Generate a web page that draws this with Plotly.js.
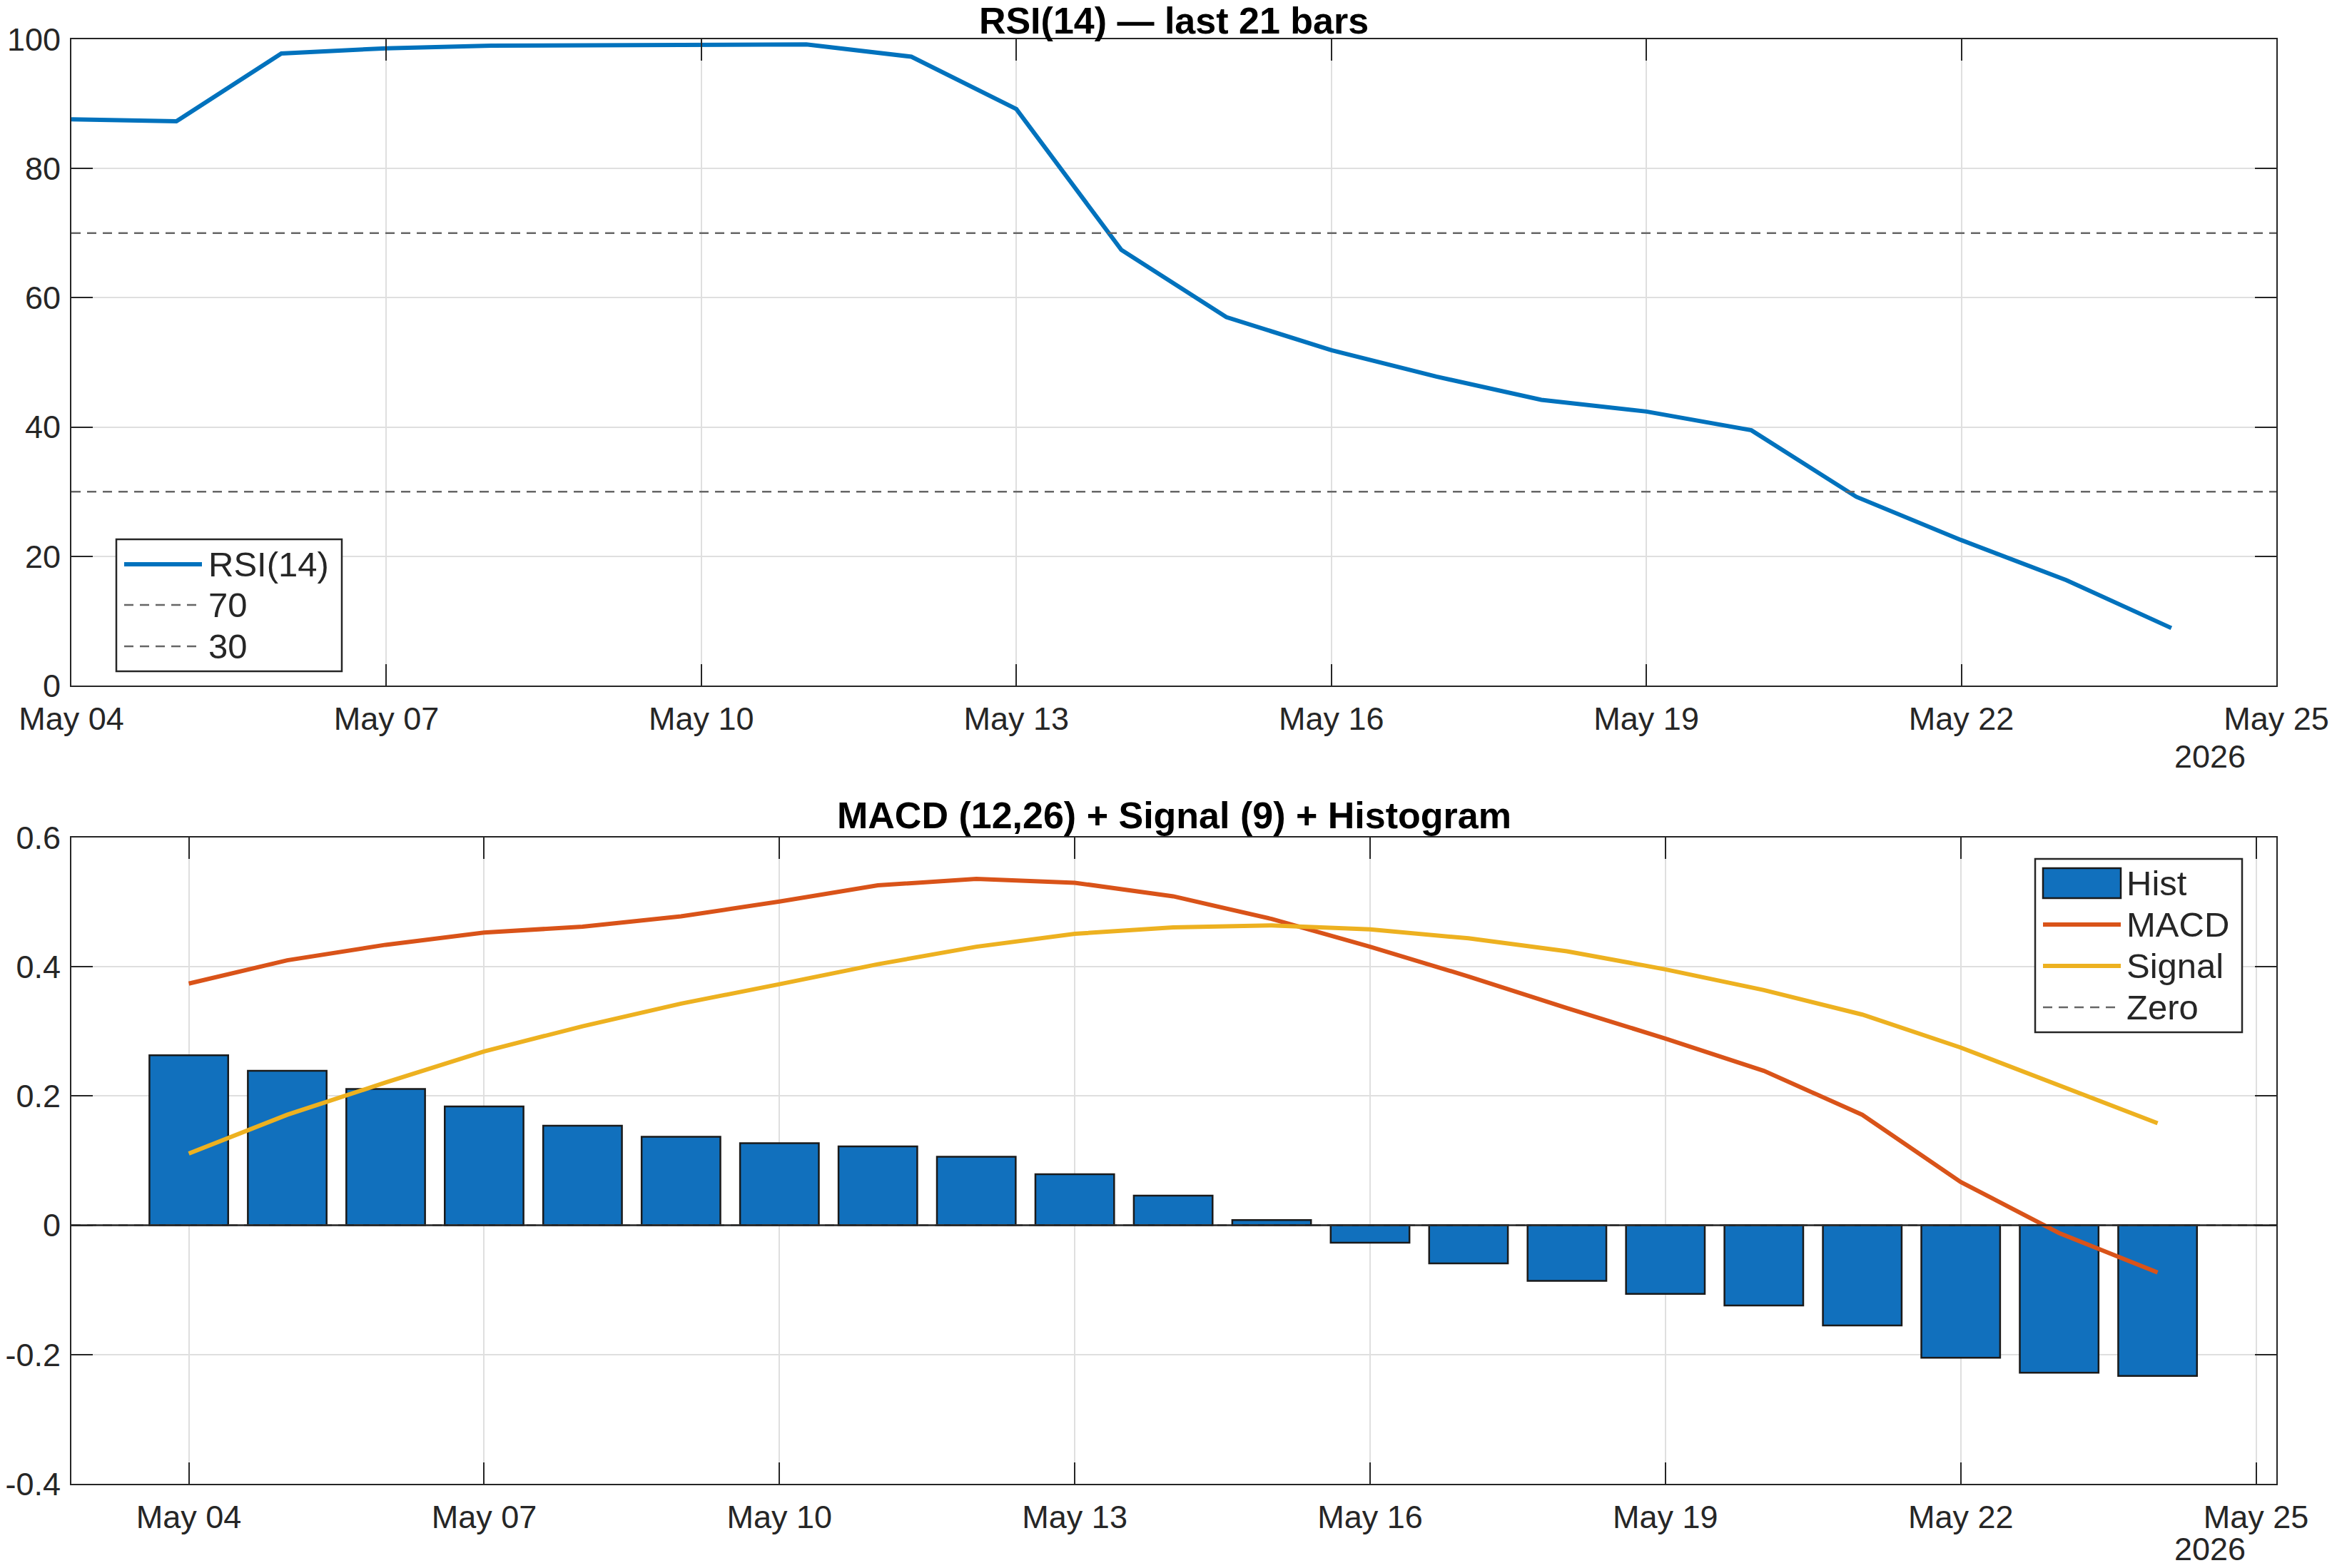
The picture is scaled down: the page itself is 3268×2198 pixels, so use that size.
<!DOCTYPE html>
<html>
<head>
<meta charset="utf-8">
<script src="https://cdn.plot.ly/plotly-3.0.1.min.js"></script>
<style>html,body{margin:0;padding:0;background:#fff;}#chart{width:3268px;height:2198px;}</style>
</head>
<body>
<div id="chart"></div>
<script>
// ---- data ----
const dates = ['2026-05-04','2026-05-05','2026-05-06','2026-05-07','2026-05-08','2026-05-09','2026-05-10',
  '2026-05-11','2026-05-12','2026-05-13','2026-05-14','2026-05-15','2026-05-16','2026-05-17',
  '2026-05-18','2026-05-19','2026-05-20','2026-05-21','2026-05-22','2026-05-23','2026-05-24'];
const rsi = [87.6, 87.3, 97.8, 98.6, 99.0, 99.1, 99.2, 99.2, 97.3, 89.2, 67.4,
  57.0, 51.9, 47.8, 44.2, 42.4, 39.5, 29.2, 22.5, 16.3, 8.9];
const rsiLevels = [70, 30];
const hist = [0.263, 0.239, 0.211, 0.184, 0.154, 0.137, 0.127, 0.122, 0.106, 0.079, 0.046,
  0.008, -0.027, -0.059, -0.086, -0.106, -0.124, -0.155, -0.205, -0.228, -0.233];
const macd = [0.374, 0.410, 0.434, 0.453, 0.462, 0.478, 0.501, 0.526, 0.536, 0.530, 0.509,
  0.474, 0.431, 0.385, 0.336, 0.289, 0.239, 0.171, 0.067, -0.012, -0.073];
const signal = [0.111, 0.171, 0.221, 0.269, 0.308, 0.343, 0.373, 0.404, 0.431, 0.451, 0.461,
  0.464, 0.458, 0.444, 0.424, 0.396, 0.364, 0.326, 0.275, 0.217, 0.158];
const zeroLevel = [0];
const titles = ['RSI(14) \u2014 last 21 bars', 'MACD (12,26) + Signal (9) + Histogram'];
const rsiNames = ['RSI(14)', '70', '30'];
const macdNames = ['Hist', 'MACD', 'Signal', 'Zero'];
const yearLabel = '2026';
const rsiTickVals = [0, 20, 40, 60, 80, 100];
const rsiTickText = ['0', '20', '40', '60', '80', '100'];
const macdTickVals = [-0.4, -0.2, 0, 0.2, 0.4, 0.6];
const macdTickText = ['-0.4', '-0.2', '0', '0.2', '0.4', '0.6'];
const xRangeTop = ['2026-05-04', '2026-05-25'];
const xRangeBottom = ['2026-05-02 19:22', '2026-05-25 04:57'];

// ---- styling ----
const W = 3268, H = 2198;
const px = x => x / W;
const py = y => 1 - y / H;
const BLUE = '#0072BD', ORANGE = '#D95319', YELLOW = '#EDB120', DGRAY = '#666666';
const AX = '#262626', GRID = '#dfdfdf';
const FONT = 'Liberation Sans, Arial, Helvetica, sans-serif';
const DAY = 86400000;
const LW = 6;

function xaxisBase(range, dom) {
  return {
    type: 'date', range: range, domain: dom,
    tickmode: 'linear', tick0: '2026-05-04', dtick: 3 * DAY, tickformat: '%b %d',
    showgrid: true, gridcolor: GRID, gridwidth: 2,
    showline: true, linecolor: AX, linewidth: 2, mirror: 'ticks',
    ticks: 'inside', ticklen: 30, tickwidth: 2, tickcolor: AX,
    tickfont: {family: FONT, size: 45, color: AX},
    zeroline: false, fixedrange: true, ticklabelstandoff: 6
  };
}
function yaxisBase(dom, vals, text, range) {
  return {
    domain: dom, range: range, tickmode: 'array', tickvals: vals, ticktext: text,
    showgrid: true, gridcolor: GRID, gridwidth: 2,
    showline: true, linecolor: AX, linewidth: 2, mirror: 'ticks',
    ticks: 'inside', ticklen: 30, tickwidth: 2, tickcolor: AX,
    tickfont: {family: FONT, size: 45, color: AX},
    zeroline: false, fixedrange: true, ticklabelstandoff: 4
  };
}

const xDom = [px(100), px(3190)];
const traces = [
  {x: dates, y: rsi, type: 'scatter', mode: 'lines', name: rsiNames[0],
   line: {color: BLUE, width: LW}, xaxis: 'x', yaxis: 'y'},
  {x: xRangeTop, y: [rsiLevels[0], rsiLevels[0]], type: 'scatter', mode: 'lines', name: rsiNames[1],
   line: {color: DGRAY, width: 2.5, dash: '13px,9px'}, xaxis: 'x', yaxis: 'y'},
  {x: xRangeTop, y: [rsiLevels[1], rsiLevels[1]], type: 'scatter', mode: 'lines', name: rsiNames[2],
   line: {color: DGRAY, width: 2.5, dash: '13px,9px'}, xaxis: 'x', yaxis: 'y'},
  {x: xRangeBottom, y: [zeroLevel[0], zeroLevel[0]], type: 'scatter', mode: 'lines', name: macdNames[3],
   line: {color: DGRAY, width: 2.5, dash: '13px,9px'}, xaxis: 'x2', yaxis: 'y2'},
  {x: dates, y: hist, type: 'bar', name: macdNames[0], width: 0.8 * DAY,
   marker: {color: '#1170BD', line: {color: '#1a1a1a', width: 2.5}}, xaxis: 'x2', yaxis: 'y2'},
  {x: dates, y: macd, type: 'scatter', mode: 'lines', name: macdNames[1],
   line: {color: ORANGE, width: LW}, xaxis: 'x2', yaxis: 'y2'},
  {x: dates, y: signal, type: 'scatter', mode: 'lines', name: macdNames[2],
   line: {color: YELLOW, width: LW}, xaxis: 'x2', yaxis: 'y2'}
];

const shapes = [
  // bar baseline
  {type: 'line', xref: 'x2 domain', yref: 'y2', x0: 0, x1: 1, y0: zeroLevel[0], y1: zeroLevel[0],
   line: {color: AX, width: 2.5}, layer: 'above'},
  // legend 1 box
  {type: 'rect', xref: 'paper', yref: 'paper', x0: px(163), x1: px(479), y0: py(941), y1: py(756),
   line: {color: AX, width: 2.5}, fillcolor: '#ffffff', layer: 'above'},
  // legend 2 box
  {type: 'rect', xref: 'paper', yref: 'paper', x0: px(2852), x1: px(3142), y0: py(1447), y1: py(1204),
   line: {color: AX, width: 2.5}, fillcolor: '#ffffff', layer: 'above'}
];
const annotations = [
  {text: titles[1], xref: 'paper', yref: 'paper', x: px(1645), y: py(1143), xanchor: 'center', yanchor: 'middle',
   showarrow: false, font: {family: FONT, size: 52, color: '#000', weight: 'bold'}},
  {text: yearLabel, xref: 'paper', yref: 'paper', x: px(3097), y: py(1060), xanchor: 'center', yanchor: 'middle',
   showarrow: false, font: {family: FONT, size: 45, color: AX}},
  {text: yearLabel, xref: 'paper', yref: 'paper', x: px(3097), y: py(2171), xanchor: 'center', yanchor: 'middle',
   showarrow: false, font: {family: FONT, size: 45, color: AX}}
];

// legend entries (drawn from trace styles)
function addLegend(entries, sx0, sx1, tx, rows) {
  entries.forEach((tr, i) => {
    const yc = rows[i];
    if (tr.type === 'bar') {
      shapes.push({type: 'rect', xref: 'paper', yref: 'paper', x0: px(sx0), x1: px(sx1),
        y0: py(yc + 21), y1: py(yc - 21), fillcolor: tr.marker.color,
        line: {color: tr.marker.line.color, width: 2.5}, layer: 'above'});
    } else {
      shapes.push({type: 'line', xref: 'paper', yref: 'paper', x0: px(sx0), x1: px(sx1),
        y0: py(yc), y1: py(yc), line: {color: tr.line.color, width: tr.line.width, dash: tr.line.dash || 'solid'},
        layer: 'above'});
    }
    annotations.push({text: tr.name, xref: 'paper', yref: 'paper', x: px(tx), y: py(yc),
      xanchor: 'left', yanchor: 'middle', showarrow: false,
      font: {family: FONT, size: 49, color: AX}});
  });
}
addLegend([traces[0], traces[1], traces[2]], 174, 283, 290, [791, 848, 906]);
addLegend([traces[4], traces[5], traces[6], traces[3]], 2863, 2972, 2978, [1238, 1296, 1354, 1412]);

const layout = {
  width: W, height: H, autosize: false,
  margin: {l: 0, r: 0, t: 0, b: 0, pad: 0},
  paper_bgcolor: '#ffffff', plot_bgcolor: '#ffffff',
  showlegend: false,
  title: {text: titles[0], x: px(1645), xanchor: 'center', y: py(29), yanchor: 'middle',
    font: {family: FONT, size: 52, color: '#000', weight: 'bold'}},
  xaxis: Object.assign(xaxisBase(xRangeTop, xDom), {anchor: 'y'}),
  yaxis: Object.assign(yaxisBase([py(961), py(55)], rsiTickVals, rsiTickText, [0, 100]), {anchor: 'x'}),
  xaxis2: Object.assign(xaxisBase(xRangeBottom, xDom), {anchor: 'y2'}),
  yaxis2: Object.assign(yaxisBase([py(2080), py(1174)], macdTickVals, macdTickText, [-0.4, 0.6]), {anchor: 'x2'}),
  bargap: 0,
  shapes: shapes,
  annotations: annotations
};

Plotly.newPlot('chart', traces, layout, {staticPlot: true, displayModeBar: false});
</script>
</body>
</html>
